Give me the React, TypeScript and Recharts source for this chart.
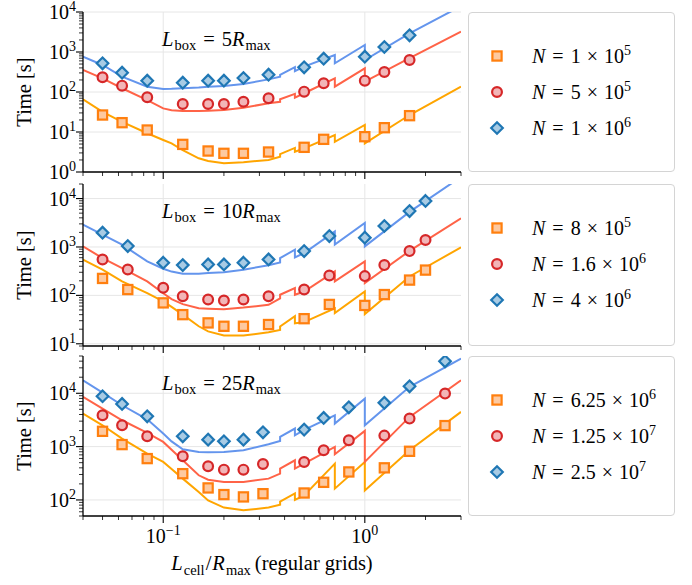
import React from 'react'
import { ComposedChart, Line, Scatter, XAxis, YAxis, ReferenceLine } from 'recharts'

const SERIF = '"Liberation Serif", "DejaVu Serif", serif'

// model curves share one x grid (repeated x = a jump in the curve)
const lineX = [0.04, 0.05, 0.0625, 0.0833, 0.1, 0.11, 0.125, 0.15, 0.167, 0.2, 0.25, 0.333, 0.38, 0.38, 0.45, 0.45, 0.5, 0.71, 0.71, 1, 1, 1.667, 3]

// Lbox = 5 Rmax
const p1X = [0.05, 0.0625, 0.0833, 0.125, 0.167, 0.2, 0.25, 0.333, 0.5, 0.625, 1, 1.25, 1.667]
const p1Orange = [26.6, 17.1, 11.2, 4.9, 3.35, 2.93, 2.93, 3.16, 4.14, 6.56, 7.64, 12.8, 25.6]
const p1Red = [233, 144, 74, 50, 50, 50, 57, 70, 102, 165, 192, 316, 631]
const p1Blue = [521, 304, 192, 171, 192, 192, 224, 271, 414, 680, 763, 1334, 2612]
const p1OrangeLine = [66, 32, 18, 9.3, 6.3, 5.2, 3.5, 2.2, 1.88, 1.65, 1.75, 2.0, 2.4, 2.8, 4.0, 3.2, 3.9, 8.4, 5.7, 15, 5.2, 26.6, 136]
const p1RedLine = [355, 220, 124, 63, 39, 35, 33.5, 33.5, 34, 35.5, 40.5, 52, 57, 66, 90, 72, 93, 220, 136, 391, 181, 700, 3221]
const p1BlueLine = [764, 473, 241, 136, 119, 120, 124, 130, 136, 141, 158, 207, 241, 270, 420, 330, 430, 841, 521, 1496, 631, 2930, 14000]

// Lbox = 10 Rmax
const p2X = [0.05, 0.0667, 0.1, 0.125, 0.167, 0.2, 0.25, 0.333, 0.5, 0.667, 1, 1.25, 1.667, 2]
const p2Orange = [224, 132, 70, 40, 27, 23, 23, 25, 33, 65, 62, 104, 207, 333]
const p2Red = [553, 343, 144, 96, 82, 78, 82, 96, 132, 258, 250, 422, 822, 1390]
const p2Blue = [1977, 1045, 473, 422, 436, 436, 473, 553, 822, 1683, 1560, 2710, 5530, 8920]
const p2OrangeLine = [546, 339, 194, 111, 75, 58, 40, 23, 18, 14.8, 14.8, 17.3, 19.4, 22.7, 37, 26.5, 28, 54, 43, 120, 41, 246, 982]
const p2RedLine = [1028, 589, 366, 194, 111, 84, 66, 54, 53, 52, 56, 64, 87, 103, 141, 103, 120, 313, 194, 504, 179, 830, 3900]
const p2BlueLine = [2900, 1800, 1117, 504, 355, 310, 280, 280, 290, 302, 339, 420, 480, 589, 880, 610, 748, 2100, 1117, 3126, 1028, 5300, 28000]

// Lbox = 25 Rmax
const p3X = [0.05, 0.0625, 0.0833, 0.125, 0.167, 0.2, 0.25, 0.3125, 0.5, 0.625, 0.833, 1.25, 1.667, 2.5]
const p3Orange = [1936, 1091, 596, 311, 168, 126, 114, 131, 135, 214, 335, 400, 817, 2477]
const p3Red = [3865, 2512, 1560, 658, 427, 370, 370, 473, 516, 853, 1313, 1607, 3350, 9870]
const p3Blue = [8790, 6320, 3700, 1560, 1352, 1256, 1352, 1854, 2083, 3450, 5460, 6610, 13530, 39800]
const p3OrangeLine = [4160, 2512, 1413, 740, 516, 380, 251, 141, 98, 72, 64, 72, 81, 93, 133, 100, 122, 480, 163, 516, 151, 853, 4477]
const p3RedLine = [8550, 5160, 3120, 1807, 1225, 870, 553, 290, 240, 218, 218, 251, 311, 386, 553, 386, 480, 986, 718, 1973, 516, 3606, 17540]
const p3BlueLine = [17540, 10300, 5960, 3250, 1754, 1250, 891, 794, 780, 794, 853, 1104, 1280, 1520, 2180, 1630, 2055, 3865, 2704, 7940, 2512, 13200, 44800]

const boxSizes = [5, 10, 25]
const legendMantissa = [['1', '5', '1'], ['8', '1.6', '4'], ['6.25', '1.25', '2.5']]
const legendExp = [[5, 5, 6], [5, 6, 6], [6, 7, 7]]

const xDomain = [0.04, 3]
const xMajors = [0.1, 1]
const yDomains = [[1, 1e4], [9, 2e4], [50, 5e4]]

const styles = [
  { kind: 'sq', edge: '#ff7f0e', fill: '#fdc9a0', line: '#ffa500' },
  { kind: 'ci', edge: '#d62728', fill: '#f2b5b7', line: '#ff6347' },
  { kind: 'di', edge: '#1f77b4', fill: '#a8cbe4', line: '#6495ed' },
]

const zip = (xs: number[], ys: number[]) => xs.map((x, i) => ({ x, y: ys[i] }))

function logTicks(lo: number, hi: number) {
  const out: number[] = []
  for (let e = Math.floor(Math.log10(lo)); e <= Math.ceil(Math.log10(hi)); e++) {
    for (let m = 1; m < 10; m++) {
      const v = Number((m * Math.pow(10, e)).toPrecision(4))
      if (v >= lo * 0.999 && v <= hi * 1.001) out.push(v)
    }
  }
  return out
}
const isMajor = (v: number) => Math.abs(Math.log10(v) - Math.round(Math.log10(v))) < 1e-6
const expOf = (v: number) => {
  const e = Math.round(Math.log10(v))
  return e < 0 ? '\u2212' + -e : String(e)
}

const panels = [
  { top: 0, h: 182, mt: 12, mb: 2, xh: 8, sx: p1X, pts: [p1Orange, p1Red, p1Blue], lines: [p1OrangeLine, p1RedLine, p1BlueLine] },
  { top: 176, h: 180, mt: 8, mb: 2, xh: 8, sx: p2X, pts: [p2Orange, p2Red, p2Blue], lines: [p2OrangeLine, p2RedLine, p2BlueLine] },
  { top: 348, h: 237, mt: 8, mb: 9, xh: 60, sx: p3X, pts: [p3Orange, p3Red, p3Blue], lines: [p3OrangeLine, p3RedLine, p3BlueLine] },
]

function Marker({ kind, cx, cy, edge, fill }: any) {
  if (kind === 'sq')
    return <rect x={cx - 4.6} y={cy - 4.6} width={9.2} height={9.2} fill={fill} stroke={edge} strokeWidth={2.2} />
  if (kind === 'ci') return <circle cx={cx} cy={cy} r={4.9} fill={fill} stroke={edge} strokeWidth={2.2} />
  const d = 5.8
  return (
    <polygon
      points={`${cx},${cy - d} ${cx + d},${cy} ${cx},${cy + d} ${cx - d},${cy}`}
      fill={fill}
      stroke={edge}
      strokeWidth={2.2}
    />
  )
}

function YTick({ x, y, payload }: any) {
  const v = payload.value
  const major = isMajor(v)
  return (
    <g>
      <line x1={x} x2={x - (major ? 7 : 4)} y1={y} y2={y} stroke="#000" strokeWidth={major ? 1.1 : 0.8} />
      {major && (
        <text x={x - 7} y={y + 7} textAnchor="end" fontSize={20} fontFamily={SERIF} fill="#000">
          10
          <tspan dy={-8} fontSize={14}>
            {expOf(v)}
          </tspan>
        </text>
      )}
    </g>
  )
}

function makeXTick(showLabel: boolean) {
  return function XTick({ x, y, payload }: any) {
    const v = payload.value
    const major = isMajor(v)
    return (
      <g>
        <line x1={x} x2={x} y1={y} y2={y + (major ? 7 : 4)} stroke="#000" strokeWidth={major ? 1.1 : 0.8} />
        {showLabel && major && (
          <text x={x} y={y + 27} textAnchor="middle" fontSize={20} fontFamily={SERIF} fill="#000">
            10
            <tspan dy={-8} fontSize={14}>
              {expOf(v)}
            </tspan>
          </text>
        )}
      </g>
    )
  }
}

function YLabel({ viewBox }: any) {
  const cx = viewBox.x + 31
  const cy = viewBox.y + viewBox.height / 2
  return (
    <text transform={`translate(${cx},${cy}) rotate(-90)`} textAnchor="middle" fontSize={20.5} fontFamily={SERIF} fill="#000">
      Time [s]
    </text>
  )
}

function XLabel({ viewBox }: any) {
  const cx = viewBox.x + viewBox.width / 2
  const cy = viewBox.y + 54
  return (
    <text x={cx} y={cy} textAnchor="middle" fontSize={20.5} fontFamily={SERIF} fill="#000">
      <tspan fontStyle="italic">L</tspan>
      <tspan dy={5} dx={1} fontSize={14.5}>cell</tspan>
      <tspan dy={-5} dx={1}>/</tspan>
      <tspan fontStyle="italic" dx={1}>R</tspan>
      <tspan dy={5} dx={1} fontSize={14.5}>max</tspan>
      <tspan dy={-5} dx={4}>(regular grids)</tspan>
    </text>
  )
}

function Panel({ idx }: { idx: number }) {
  const p = panels[idx]
  const yDomain = yDomains[idx]
  const xTicks = logTicks(xDomain[0], xDomain[1])
  const yTicks = logTicks(yDomain[0], yDomain[1])
  const yGrid = yTicks.filter(isMajor)
  const last = idx === panels.length - 1
  const plotTop = p.top + p.mt
  const plotH = p.h - p.mt - p.mb - p.xh
  return (
    <>
      <div style={{ position: 'absolute', left: 0, top: p.top }}>
        <ComposedChart width={470} height={p.h} margin={{ top: p.mt, right: 9, bottom: p.mb, left: 0 }}>
          <XAxis
            dataKey="x"
            type="number"
            scale="log"
            domain={xDomain}
            allowDataOverflow
            ticks={xTicks}
            interval={0}
            tickSize={0}
            tickMargin={0}
            tickLine={false}
            tick={makeXTick(last)}
            height={p.xh}
            axisLine={{ stroke: '#000', strokeWidth: 1.3 }}
            label={last ? <XLabel /> : undefined}
          />
          <XAxis xAxisId="top" orientation="top" type="number" scale="log" domain={xDomain} allowDataOverflow height={0} tick={false} tickLine={false} axisLine={{ stroke: '#000', strokeWidth: 1.3 }} />
          <YAxis
            dataKey="y"
            type="number"
            scale="log"
            domain={yDomain}
            allowDataOverflow
            ticks={yTicks}
            interval={0}
            tickSize={0}
            tickMargin={0}
            tickLine={false}
            tick={<YTick />}
            width={83}
            axisLine={{ stroke: '#000', strokeWidth: 1.3 }}
            label={<YLabel />}
          />
          <YAxis yAxisId="right" orientation="right" type="number" scale="log" domain={yDomain} allowDataOverflow width={0} tick={false} tickLine={false} axisLine={{ stroke: '#000', strokeWidth: 1.3 }} />
          {xMajors.map((v) => (
            <ReferenceLine key={'gx' + v} x={v} stroke="#e6e6e6" strokeWidth={1} />
          ))}
          {yGrid.map((v) => (
            <ReferenceLine key={'gy' + v} y={v} stroke="#e6e6e6" strokeWidth={1} />
          ))}
          {styles.map((s, i) => (
            <Line
              key={'l' + i}
              data={zip(lineX, p.lines[i])}
              dataKey="y"
              type="linear"
              stroke={s.line}
              strokeWidth={2}
              dot={false}
              activeDot={false}
              isAnimationActive={false}
            />
          ))}
          {styles.map((s, i) => (
            <Scatter
              key={'s' + i}
              data={zip(p.sx, p.pts[i])}
              dataKey="y"
              isAnimationActive={false}
              shape={(props: any) => <Marker kind={s.kind} cx={props.cx} cy={props.cy} edge={s.edge} fill={s.fill} />}
            />
          ))}
        </ComposedChart>
      </div>
      <div
        style={{
          position: 'absolute',
          left: 162,
          top: plotTop + 14,
          fontFamily: SERIF,
          fontSize: 20.5,
          lineHeight: '26px',
          whiteSpace: 'nowrap',
        }}
      >
        <i>L</i>
        <sub style={{ fontSize: 14.5, verticalAlign: '-4px', lineHeight: 0, marginLeft: 1 }}>box</sub>
        <span style={{ margin: '0 7px' }}>=</span>
        {boxSizes[idx]}
        <i>R</i>
        <sub style={{ fontSize: 14.5, verticalAlign: '-4px', lineHeight: 0, marginLeft: 1 }}>max</sub>
      </div>
      <div
        style={{
          position: 'absolute',
          left: 468,
          top: plotTop,
          width: 205,
          height: plotH - 2,
          border: '1.5px solid #d4d4d4',
          borderRadius: 4,
          background: '#fff',
        }}
      >
        {styles.map((s, i) => (
          <div
            key={i}
            style={{
              position: 'absolute',
              left: 0,
              top: 30 + i * 36,
              height: 26,
              width: '100%',
              fontFamily: SERIF,
              fontSize: 20,
              lineHeight: '26px',
              whiteSpace: 'nowrap',
            }}
          >
            <svg width={18} height={18} style={{ position: 'absolute', left: 19, top: 4 }}>
              <Marker kind={s.kind} cx={9} cy={9} edge={s.edge} fill={s.fill} />
            </svg>
            <span style={{ position: 'absolute', left: 63, top: 0 }}>
              <i>N</i>
              <span style={{ margin: '0 7px' }}>=</span>
              {legendMantissa[idx][i]}
              <span style={{ margin: '0 6px' }}>×</span>
              10
              <sup style={{ fontSize: 14, verticalAlign: '8px', lineHeight: 0 }}>{legendExp[idx][i]}</sup>
            </span>
          </div>
        ))}
      </div>
    </>
  )
}

export default function App() {
  return (
    <div style={{ position: 'absolute', left: 0, top: 0, width: 692, height: 585, background: '#fff' }}>
      {panels.map((_, i) => (
        <Panel key={i} idx={i} />
      ))}
    </div>
  )
}
